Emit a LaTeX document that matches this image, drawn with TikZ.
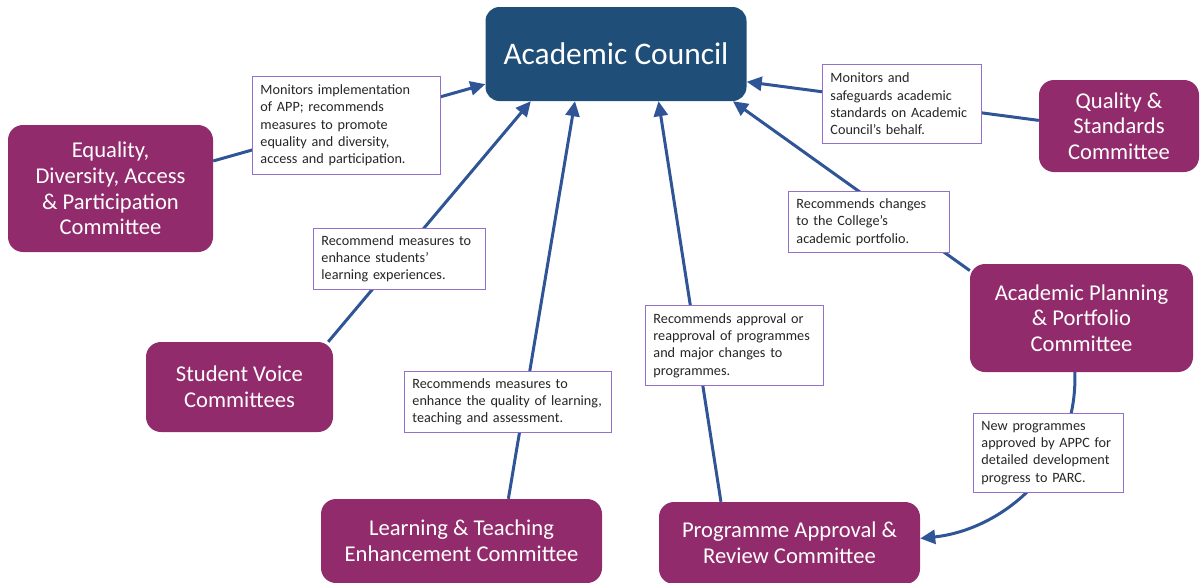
\documentclass[tikz,border=0pt]{standalone}
\usepackage{fontspec}
\setmainfont{Carlito}
\usetikzlibrary{arrows.meta}
\hyphenpenalty=10000
\exhyphenpenalty=10000
\definecolor{acblue}{HTML}{1F4E79}
\definecolor{plum}{HTML}{922B6B}
\definecolor{arrowblue}{HTML}{2F5597}
\definecolor{lblborder}{HTML}{9470C8}
\definecolor{lbltext}{HTML}{262626}
\tikzset{
  council/.style={fill=acblue, draw=none, rounded corners=14pt, text=white, align=center,
    font=\fontsize{31.4}{36}\selectfont, inner sep=0pt},
  committee/.style={fill=plum, draw=none, rounded corners=15pt, text=white, align=center,
    font=\fontsize{22.6}{25.7}\selectfont, inner sep=0pt},
  lbl/.style={fill=white, draw=lblborder, line width=0.9pt, text=lbltext, align=left,
    font=\fontsize{14.2}{17.3}\selectfont, inner xsep=8pt, inner ysep=0pt, anchor=north west},
  conn/.style={draw=arrowblue, line width=3pt},
  arr/.style={conn, -{Triangle[length=15pt,width=14pt]}},
}
\begin{document}
\begin{tikzpicture}[x=1pt,y=-1pt]
\useasboundingbox (0,0) rectangle (1201,582);
% main nodes
\node[council, minimum width=261pt, minimum height=94pt] (ac) at (616,54) {Academic Council};
\node[committee, minimum width=205pt, minimum height=127pt] (edapc) at (110.5,188.5)
  {Equality,\\Diversity, Access\\\& Participation\\Committee};
\node[committee, minimum width=160pt, minimum height=92pt] (qsc) at (1119,126)
  {Quality \&\\Standards\\Committee};
\node[committee, minimum width=223pt, minimum height=108pt] (appc) at (1081.5,318)
  {Academic Planning\\\& Portfolio\\Committee};
\node[committee, minimum width=187pt, minimum height=90pt] (svc) at (239.5,387)
  {Student Voice\\Committees};
\node[committee, minimum width=281pt, minimum height=84pt] (ltec) at (461.5,541)
  {Learning \& Teaching\\Enhancement Committee};
\node[committee, minimum width=261pt, minimum height=82pt] (parc) at (789.5,543)
  {Programme Approval \&\\Review Committee};
% connectors
\draw[arr] (edapc.15.5) -- (ac.193);
\draw[arr] (svc.27) -- (ac.209);
\draw[arr] (ltec.42) -- (ac.229);
\draw[arr] (parc.149.5) -- (ac.312);
\draw[arr] (appc.157) -- (ac.338);
\draw[arr] (qsc.176) -- (ac.348);
\draw[arr] (appc.263) .. controls (1078,470) and (1000,530) .. (parc.2);
% labels
\node[lbl, text width=172pt, minimum height=98pt] (l1) at (252,76)
  {Monitors implementation\\of APP; recommends\\measures to promote\\equality and diversity,\\access and participation.};
\node[lbl, text width=143pt, minimum height=79pt] (l2) at (822,64)
  {Monitors and\\safeguards academic\\standards on Academic\\Council’s behalf.};
\node[lbl, text width=156pt, minimum height=61pt] (l3) at (313,228)
  {Recommend measures to\\enhance students’\\learning experiences.};
\node[lbl, text width=145pt, minimum height=61pt] (l4) at (788,191)
  {Recommends changes\\to the College’s\\academic portfolio.};
\node[lbl, text width=191pt, minimum height=61pt] (l5) at (404,371)
  {Recommends measures to\\enhance the quality of learning,\\teaching and assessment.};
\node[lbl, text width=162pt, minimum height=80pt] (l6) at (645,305)
  {Recommends approval or\\reapproval of programmes\\and major changes to\\programmes.};
\node[lbl, text width=134pt, minimum height=79pt] (l7) at (973,413)
  {New programmes\\approved by APPC for\\detailed development\\progress to PARC.};
\end{tikzpicture}
\end{document}
